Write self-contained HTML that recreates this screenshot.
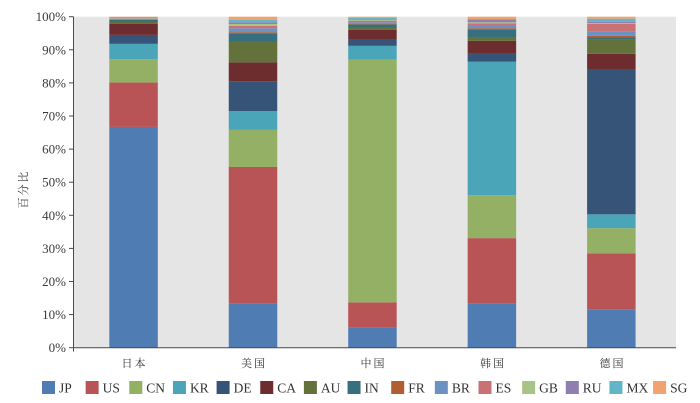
<!DOCTYPE html>
<html>
<head>
<meta charset="utf-8">
<style>
html,body{margin:0;padding:0;background:#fff;}
svg{display:block;}
.tick{font-family:"Liberation Serif",serif;font-size:13px;fill:#3a3a3a;}
.cat{font-family:"Liberation Serif","Noto Serif CJK SC",serif;font-size:11px;fill:#333;letter-spacing:2px;}
.leg{font-family:"Liberation Serif",serif;font-size:13.5px;fill:#333;}
</style>
</head>
<body>
<svg width="700" height="403" viewBox="0 0 700 403" xmlns="http://www.w3.org/2000/svg">
<rect x="73" y="16.7" width="603" height="331" fill="#e5e5e5"/>

<g transform="translate(0,347.7) scale(1,-3.31)">
<!-- Bar 1 日本 -->
<g transform="translate(109.3,0)">
<rect x="0" width="48.5" y="0" height="66.7" fill="#4f7db3"/>
<rect x="0" width="48.5" y="66.7" height="13.4" fill="#b85456"/>
<rect x="0" width="48.5" y="80.1" height="7.1" fill="#93b065"/>
<rect x="0" width="48.5" y="87.2" height="4.6" fill="#4aa5b9"/>
<rect x="0" width="48.5" y="91.8" height="2.7" fill="#365478"/>
<rect x="0" width="48.5" y="94.5" height="3.3" fill="#6d2d2e"/>
<rect x="0" width="48.5" y="97.8" height="0.6" fill="#62723a"/>
<rect x="0" width="48.5" y="98.4" height="0.6" fill="#366f7e"/>
<rect x="0" width="48.5" y="99.0" height="0.1" fill="#b05d30"/>
<rect x="0" width="48.5" y="99.1" height="0.3" fill="#6b92c2"/>
<rect x="0" width="48.5" y="99.4" height="0.1" fill="#c87275"/>
<rect x="0" width="48.5" y="99.5" height="0.1" fill="#a8c386"/>
<rect x="0" width="48.5" y="99.6" height="0.15" fill="#8e7fb0"/>
<rect x="0" width="48.5" y="99.75" height="0.1" fill="#62b5c6"/>
<rect x="0" width="48.5" y="99.85" height="0.15" fill="#f0a26f"/>
</g>
<!-- Bar 2 美国 -->
<g transform="translate(228.75,0)">
<rect x="0" width="48.5" y="0" height="13.4" fill="#4f7db3"/>
<rect x="0" width="48.5" y="13.4" height="41.2" fill="#b85456"/>
<rect x="0" width="48.5" y="54.6" height="11.2" fill="#93b065"/>
<rect x="0" width="48.5" y="65.8" height="5.7" fill="#4aa5b9"/>
<rect x="0" width="48.5" y="71.5" height="9.0" fill="#365478"/>
<rect x="0" width="48.5" y="80.5" height="5.7" fill="#6d2d2e"/>
<rect x="0" width="48.5" y="86.2" height="6.3" fill="#62723a"/>
<rect x="0" width="48.5" y="92.5" height="2.4" fill="#366f7e"/>
<rect x="0" width="48.5" y="94.9" height="0.4" fill="#b05d30"/>
<rect x="0" width="48.5" y="95.3" height="1.2" fill="#6b92c2"/>
<rect x="0" width="48.5" y="96.5" height="0.7" fill="#c87275"/>
<rect x="0" width="48.5" y="97.2" height="0.6" fill="#a8c386"/>
<rect x="0" width="48.5" y="97.8" height="0.5" fill="#8e7fb0"/>
<rect x="0" width="48.5" y="98.3" height="0.8" fill="#62b5c6"/>
<rect x="0" width="48.5" y="99.1" height="0.9" fill="#f0a26f"/>
</g>
<!-- Bar 3 中国 -->
<g transform="translate(348.2,0)">
<rect x="0" width="48.5" y="0" height="6.0" fill="#4f7db3"/>
<rect x="0" width="48.5" y="6.0" height="7.7" fill="#b85456"/>
<rect x="0" width="48.5" y="13.7" height="73.3" fill="#93b065"/>
<rect x="0" width="48.5" y="87.0" height="4.2" fill="#4aa5b9"/>
<rect x="0" width="48.5" y="91.2" height="1.8" fill="#365478"/>
<rect x="0" width="48.5" y="93.0" height="3.0" fill="#6d2d2e"/>
<rect x="0" width="48.5" y="96.0" height="0.6" fill="#62723a"/>
<rect x="0" width="48.5" y="96.6" height="1.1" fill="#366f7e"/>
<rect x="0" width="48.5" y="97.7" height="0.2" fill="#b05d30"/>
<rect x="0" width="48.5" y="97.9" height="0.4" fill="#6b92c2"/>
<rect x="0" width="48.5" y="98.3" height="0.5" fill="#c87275"/>
<rect x="0" width="48.5" y="98.8" height="0.3" fill="#a8c386"/>
<rect x="0" width="48.5" y="99.1" height="0.2" fill="#8e7fb0"/>
<rect x="0" width="48.5" y="99.3" height="0.4" fill="#62b5c6"/>
<rect x="0" width="48.5" y="99.7" height="0.3" fill="#f0a26f"/>
</g>
<!-- Bar 4 韩国 -->
<g transform="translate(467.65,0)">
<rect x="0" width="48.5" y="0" height="13.3" fill="#4f7db3"/>
<rect x="0" width="48.5" y="13.3" height="19.8" fill="#b85456"/>
<rect x="0" width="48.5" y="33.1" height="13.0" fill="#93b065"/>
<rect x="0" width="48.5" y="46.1" height="40.3" fill="#4aa5b9"/>
<rect x="0" width="48.5" y="86.4" height="2.5" fill="#365478"/>
<rect x="0" width="48.5" y="88.9" height="3.8" fill="#6d2d2e"/>
<rect x="0" width="48.5" y="92.7" height="1.0" fill="#62723a"/>
<rect x="0" width="48.5" y="93.7" height="2.5" fill="#366f7e"/>
<rect x="0" width="48.5" y="96.2" height="0.3" fill="#b05d30"/>
<rect x="0" width="48.5" y="96.5" height="1.0" fill="#6b92c2"/>
<rect x="0" width="48.5" y="97.5" height="0.5" fill="#c87275"/>
<rect x="0" width="48.5" y="98.0" height="0.3" fill="#a8c386"/>
<rect x="0" width="48.5" y="98.3" height="0.7" fill="#8e7fb0"/>
<rect x="0" width="48.5" y="99.0" height="0.3" fill="#62b5c6"/>
<rect x="0" width="48.5" y="99.3" height="0.7" fill="#f0a26f"/>
</g>
<!-- Bar 5 德国 -->
<g transform="translate(587.1,0)">
<rect x="0" width="48.5" y="0" height="11.6" fill="#4f7db3"/>
<rect x="0" width="48.5" y="11.6" height="16.9" fill="#b85456"/>
<rect x="0" width="48.5" y="28.5" height="7.6" fill="#93b065"/>
<rect x="0" width="48.5" y="36.1" height="4.2" fill="#4aa5b9"/>
<rect x="0" width="48.5" y="40.3" height="43.9" fill="#365478"/>
<rect x="0" width="48.5" y="84.2" height="4.6" fill="#6d2d2e"/>
<rect x="0" width="48.5" y="88.8" height="4.2" fill="#62723a"/>
<rect x="0" width="48.5" y="93.0" height="0.7" fill="#366f7e"/>
<rect x="0" width="48.5" y="93.7" height="0.5" fill="#b05d30"/>
<rect x="0" width="48.5" y="94.2" height="1.4" fill="#6b92c2"/>
<rect x="0" width="48.5" y="95.6" height="2.2" fill="#c87275"/>
<rect x="0" width="48.5" y="97.8" height="0.3" fill="#a8c386"/>
<rect x="0" width="48.5" y="98.1" height="0.4" fill="#8e7fb0"/>
<rect x="0" width="48.5" y="98.5" height="0.9" fill="#62b5c6"/>
<rect x="0" width="48.5" y="99.4" height="0.6" fill="#f0a26f"/>
</g>
</g>

<!-- axes -->
<g stroke="#4a4a4a" stroke-width="1" fill="none">
<line x1="73.5" y1="16.7" x2="73.5" y2="351.5"/>
<line x1="73" y1="347.7" x2="676" y2="347.7"/>
<line x1="69" y1="16.7" x2="73.5" y2="16.7"/>
<line x1="69" y1="49.8" x2="73.5" y2="49.8"/>
<line x1="69" y1="82.9" x2="73.5" y2="82.9"/>
<line x1="69" y1="116.0" x2="73.5" y2="116.0"/>
<line x1="69" y1="149.1" x2="73.5" y2="149.1"/>
<line x1="69" y1="182.2" x2="73.5" y2="182.2"/>
<line x1="69" y1="215.3" x2="73.5" y2="215.3"/>
<line x1="69" y1="248.4" x2="73.5" y2="248.4"/>
<line x1="69" y1="281.5" x2="73.5" y2="281.5"/>
<line x1="69" y1="314.6" x2="73.5" y2="314.6"/>
<line x1="69" y1="347.7" x2="73.5" y2="347.7"/>
</g>

<g class="tick" text-anchor="end">
<text x="66" y="21.2">100%</text>
<text x="66" y="54.3">90%</text>
<text x="66" y="87.4">80%</text>
<text x="66" y="120.5">70%</text>
<text x="66" y="153.6">60%</text>
<text x="66" y="186.7">50%</text>
<text x="66" y="219.8">40%</text>
<text x="66" y="252.9">30%</text>
<text x="66" y="286.0">20%</text>
<text x="66" y="319.1">10%</text>
<text x="66" y="352.2">0%</text>
</g>

<text class="cat" transform="translate(27,189) rotate(-90)" text-anchor="middle">百分比</text>

<g class="cat" text-anchor="middle">
<text x="134.5" y="367">日本</text>
<text x="254" y="367">美国</text>
<text x="373.5" y="367">中国</text>
<text x="493" y="367">韩国</text>
<text x="612.5" y="367">德国</text>
</g>

<!-- legend -->
<g>
<rect x="42" y="381" width="13" height="13" fill="#4f7db3"/>
<rect x="85.65" y="381" width="13" height="13" fill="#b85456"/>
<rect x="129.3" y="381" width="13" height="13" fill="#93b065"/>
<rect x="172.95" y="381" width="13" height="13" fill="#4aa5b9"/>
<rect x="216.6" y="381" width="13" height="13" fill="#365478"/>
<rect x="260.25" y="381" width="13" height="13" fill="#6d2d2e"/>
<rect x="303.9" y="381" width="13" height="13" fill="#62723a"/>
<rect x="347.55" y="381" width="13" height="13" fill="#366f7e"/>
<rect x="391.2" y="381" width="13" height="13" fill="#b05d30"/>
<rect x="434.85" y="381" width="13" height="13" fill="#6b92c2"/>
<rect x="478.5" y="381" width="13" height="13" fill="#c87275"/>
<rect x="522.15" y="381" width="13" height="13" fill="#a8c386"/>
<rect x="565.8" y="381" width="13" height="13" fill="#8e7fb0"/>
<rect x="609.45" y="381" width="13" height="13" fill="#62b5c6"/>
<rect x="653.1" y="381" width="13" height="13" fill="#f0a26f"/>
</g>
<g class="leg">
<text x="59" y="392.5">JP</text>
<text x="102.65" y="392.5">US</text>
<text x="146.3" y="392.5">CN</text>
<text x="189.95" y="392.5">KR</text>
<text x="233.6" y="392.5">DE</text>
<text x="277.25" y="392.5">CA</text>
<text x="320.9" y="392.5">AU</text>
<text x="364.55" y="392.5">IN</text>
<text x="408.2" y="392.5">FR</text>
<text x="451.85" y="392.5">BR</text>
<text x="495.5" y="392.5">ES</text>
<text x="539.15" y="392.5">GB</text>
<text x="582.8" y="392.5">RU</text>
<text x="626.45" y="392.5">MX</text>
<text x="670.1" y="392.5">SG</text>
</g>
</svg>
</body>
</html>
